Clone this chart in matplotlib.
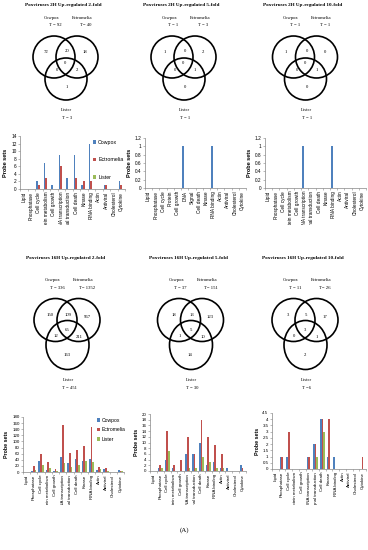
import matplotlib
matplotlib.use("Agg")
import matplotlib.pyplot as plt
from matplotlib.patches import Ellipse
from matplotlib.transforms import Bbox
from matplotlib.ticker import FuncFormatter, FixedLocator
import numpy as np

W, H = 368, 550

categories = ['Lipid', 'Phosphatase', 'Cell cycle', 'Protein metabolism', 'Cell growth',
              'DNA transcription', 'Signal transduction', 'Cell death', 'Kinase',
              'RNA binding', 'Actin', 'Antiviral', 'Cholesterol', 'Cytokine']
categories_short = ['Lipid', 'Phosphatase', 'Cell cycle', 'Protein', 'Cell growth', 'DNA',
                    'Signal', 'Cell death', 'Kinase', 'RNA binding', 'Actin', 'Antiviral',
                    'Cholesterol', 'Cytokine']
series_names = ['Cowpox', 'Ectromelia', 'Lister']
colors = ['#4F81BD', '#C0504D', '#9BBB59']

# venn region counts: C only, C&E, E only, all, C&L, E&L, L only
venn_2h_2 = [72, 20, 18, 0, 0, 2, 1]
venn_2h_5 = [1, 0, 2, 0, 0, 1, 0]
venn_2h_10 = [1, 0, 0, 0, 0, 1, 0]
venn_16h_2 = [150, 109, 967, 65, 12, 211, 163]
venn_16h_5 = [18, 13, 123, 5, 1, 10, 14]
venn_16h_10 = [3, 5, 17, 3, 0, 1, 2]

totals_2h_2 = ['T = 92', 'T= 40', 'T = 3']
totals_2h_5 = ['T = 1', 'T = 3', 'T = 1']
totals_2h_10 = ['T = 1', 'T = 1', 'T = 1']
totals_16h_2 = ['T = 336', 'T= 1352', 'T = 451']
totals_16h_5 = ['T = 37', 'T= 151', 'T = 30']
totals_16h_10 = ['T = 11', 'T= 26', 'T =6']

# bar chart values (Cowpox, Ectromelia, Lister) per category
cow_2h_2 = [0, 0, 2, 7, 1, 9, 3, 9, 1, 12, 0, 1, 0, 2]
ect_2h_2 = [0, 0, 1, 3, 0, 6, 0, 3, 2, 2, 0, 1, 0, 1]
lis_2h_2 = [0] * 14
cow_2h_5 = [0, 0, 0, 0, 0, 1, 0, 0, 0, 1, 0, 0, 0, 0]
ect_2h_5 = [0] * 14
lis_2h_5 = [0] * 14
cow_2h_10 = [0, 0, 0, 0, 0, 1, 0, 0, 0, 1, 0, 0, 0, 0]
ect_2h_10 = [0] * 14
lis_2h_10 = [0] * 14
cow_16h_2 = [0, 3, 36, 5, 2, 48, 30, 42, 37, 44, 8, 10, 0, 6]
ect_16h_2 = [0, 20, 60, 32, 10, 153, 62, 73, 85, 147, 16, 13, 0, 3]
lis_16h_2 = [0, 5, 23, 12, 3, 30, 18, 22, 36, 32, 10, 4, 0, 2]
cow_16h_5 = [0, 1, 4, 1, 0, 6, 6, 10, 2, 3, 1, 1, 0, 2]
ect_16h_5 = [0, 2, 14, 2, 4, 12, 6, 18, 12, 9, 6, 0, 0, 1]
lis_16h_5 = [0, 1, 7, 0, 0, 1, 1, 5, 3, 1, 1, 0, 0, 0]
cow_16h_10 = [0, 1, 1, 0, 0, 1, 2, 4, 1, 1, 0, 0, 0, 0]
ect_16h_10 = [0, 1, 3, 0, 0, 1, 2, 4, 4, 0, 0, 0, 0, 1]
lis_16h_10 = [0, 0, 0, 0, 0, 0, 1, 3, 0, 0, 0, 0, 0, 0]

serif = 'Liberation Serif'
sans = 'Liberation Sans'

fig = plt.figure(figsize=(W / 100, H / 100), dpi=100)
fig.patch.set_facecolor('white')

# overlay in pixel coordinates for the venn diagrams
ov = fig.add_axes([0, 0, 1, 1])
ov.set_xlim(0, W)
ov.set_ylim(H, 0)
ov.set_axis_off()

# number offsets from venn centre, per row
offs_row1 = [(-19, -5), (1.5, -6), (19.5, -5), (0, 6), (-8.5, 13), (11.5, 13), (1.5, 30)]
offs_row2 = [(-17, -5), (1, -5), (20, -3), (0, 10), (-11, 16), (12, 17), (0, 35)]


def venn(cx, cy, title, counts, totals, row):
    if row == 1:
        ty, ny, tty, r, bdy, bh, offs, ly = cy - 52, cy - 39, cy - 32, 21, 22, 42, offs_row1, cy + 53
    else:
        ty, ny, tty, r, bdy, bh, offs, ly = cy - 62, cy - 40, cy - 32, 21.5, 25, 49, offs_row2, cy + 60
    ov.text(cx - 2, ty, title, ha='center', va='center', fontsize=3.7,
            fontweight='bold', family=serif)
    ov.text(cx - 14, ny, series_names[0], ha='center', va='center', fontsize=3.4, family=serif)
    ov.text(cx + 16.5, ny, series_names[1], ha='center', va='center', fontsize=3.4, family=serif)
    ov.text(cx - 10, tty, totals[0], ha='center', va='center', fontsize=3.4, family=serif)
    ov.text(cx + 20, tty, totals[1], ha='center', va='center', fontsize=3.4, family=serif)
    ov.text(cx + 1, ly, series_names[2], ha='center', va='center', fontsize=3.4, family=serif)
    ov.text(cx + 2, ly + 8, totals[2], ha='center', va='center', fontsize=3.4, family=serif)
    for ex, ey, eh in [(cx - 11.5, cy, 2 * r), (cx + 11.5, cy, 2 * r), (cx + 0.5, cy + bdy, bh)]:
        ov.add_patch(Ellipse((ex, ey), 2 * r, eh, fill=False, lw=1.2, ec='black'))
    for v, (dx, dy) in zip(counts, offs):
        ov.text(cx + dx, cy + dy, str(v), ha='center', va='center', fontsize=3.4, family=serif)


venn(65.5, 57, 'Poxviruses 2H Up-regulated 2-fold', venn_2h_2, totals_2h_2, 1)
venn(183.5, 57, 'Poxviruses 2H Up-regulated 5-fold', venn_2h_5, totals_2h_5, 1)
venn(305, 57, 'Poxviruses 2H Up-regulated 10-fold', venn_2h_10, totals_2h_10, 1)
venn(67, 320, 'Poxviruses 16H Up-regulated 2-fold', venn_16h_2, totals_16h_2, 2)
venn(190.5, 320, 'Poxviruses 16H Up-regulated 5-fold', venn_16h_5, totals_16h_5, 2)
venn(305, 320, 'Poxviruses 16H Up-regulated 10-fold', venn_16h_10, totals_16h_10, 2)


def bars(box, clip, data, ymax, step, labels, legend, fs):
    x0, y0, x1, y1 = box
    ax = fig.add_axes([x0 / W, 1 - y1 / H, (x1 - x0) / W, (y1 - y0) / H])
    x = np.arange(len(labels))
    w = 0.24
    for i, vals in enumerate(data):
        ax.bar(x + (i - 1) * w, vals, w, color=colors[i], label=series_names[i], zorder=3)
    ax.set_xlim(-0.5, len(labels) - 0.5)
    ax.set_ylim(0, ymax)
    ax.set_yticks(np.arange(0, ymax + step / 2, step))
    ax.yaxis.set_major_formatter(FuncFormatter(lambda v, p: '%g' % round(v, 2)))
    ax.set_xticks(x)
    ax.set_xticklabels(labels, rotation=90, fontsize=fs, family=sans)
    ax.xaxis.set_minor_locator(FixedLocator(np.arange(-0.5, len(labels), 1)))
    ax.tick_params(axis='x', which='major', length=0, pad=2)
    ax.tick_params(axis='x', which='minor', length=1.5, width=0.4, color='#868686')
    ax.tick_params(axis='y', length=1.5, width=0.4, color='#868686', labelsize=fs, pad=1)
    for lab in ax.get_yticklabels():
        lab.set_family(sans)
    for s in ['top', 'right']:
        ax.spines[s].set_visible(False)
    for s in ['left', 'bottom']:
        ax.spines[s].set_color('#868686')
        ax.spines[s].set_linewidth(0.5)
    ax.set_ylabel('Probe sets', fontsize=fs + 0.6, fontweight='bold', family=sans, labelpad=2)
    cb = Bbox.from_extents(clip[0], H - clip[1], clip[2], H - y1 + 1)
    for lab in ax.get_xticklabels():
        lab.set_clip_box(cb)
        lab.set_clip_on(True)
    if legend:
        ax.legend(loc='upper right', bbox_to_anchor=legend[0], frameon=False,
                  prop={'family': sans, 'size': fs + 0.4}, handlelength=0.6,
                  handleheight=0.6, handletextpad=0.4, labelspacing=legend[1],
                  borderpad=0)
    return ax


bars((20, 136, 125, 189), (0, 225, 128), [cow_2h_2, ect_2h_2, lis_2h_2], 14, 2,
     categories, ((1.01, 0.98), 2.4), 3.4)
bars((145, 138, 246, 188), (128, 225, 248), [cow_2h_5, ect_2h_5, lis_2h_5], 1.2, 0.2,
     categories_short, None, 3.4)
bars((265, 138, 366, 188), (248, 225, 368), [cow_2h_10, ect_2h_10, lis_2h_10], 1.2, 0.2,
     categories, None, 3.4)
bars((23, 417, 124, 472), (0, 505, 128), [cow_16h_2, ect_16h_2, lis_16h_2], 180, 20,
     categories, ((1.04, 1.03), 0.9), 3.2)
bars((150, 414, 246, 471), (128, 505, 248), [cow_16h_5, ect_16h_5, lis_16h_5], 20, 2,
     categories, None, 3.2)
bars((272, 413, 366, 469), (248, 505, 368), [cow_16h_10, ect_16h_10, lis_16h_10], 4.5, 0.5,
     categories, None, 3.2)

ov.text(184, 530, '(A)', ha='center', va='center', fontsize=5, family=serif)

fig.savefig('out.png', dpi=100)
